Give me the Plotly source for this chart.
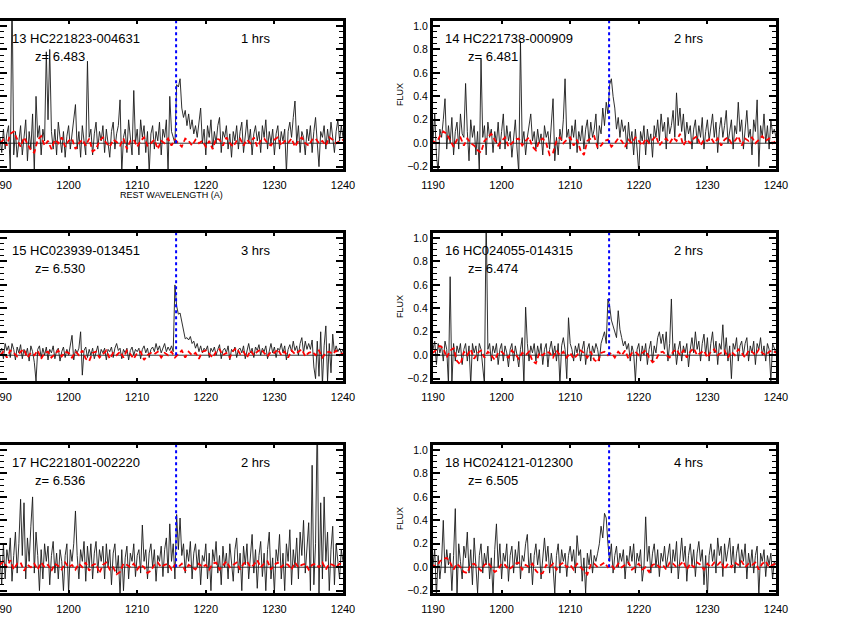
import numpy as np
import plotly.graph_objects as go

# ---------------- data ----------------
wave_start = 1190.0
wave_step = 0.25          # black spectra sampling (Angstrom)
err_step = 0.5            # red (noise) spectra sampling
lya = 1215.67

labels = ["13 HC221823-004631", "14 HC221738-000909", "15 HC023939-013451",
          "16 HC024055-014315", "17 HC221801-002220", "18 HC024121-012300"]
redshifts = ["6.483", "6.481", "6.530", "6.474", "6.536", "6.505"]
exposures = ["1 hrs", "2 hrs", "3 hrs", "2 hrs", "2 hrs", "4 hrs"]

flux13 = [
    0.05, -0.08, 0.12, -0.05, 0.08, 0.15, -0.25, 1.3, -0.1, 0.1, -0.12, 0.05, 0.15, -0.1, 0.08, 0.2, -0.15, 0.1, -0.05, 0.25,
    -0.25, 0.4, 0.05, 0.15, -0.1, 0.12, 0.02, 0.78, 0.2, 0.8, 0.1, -0.05, 0.12, -0.1, 0.18, 0.05, -0.08, 0.1, -0.12, 0.06,
    0.15, -0.05, 0.08, 0.2, 0.33, -0.05, 0.1, -0.12, 0.15, 0.02, -0.1, 0.7, 0.05, 0.12, -0.1, 0.08, 0.18, -0.05, 0.1, 0.02,
    0.15, -0.08, 0.12, 0.0, -0.12, 0.1, 0.18, -0.05, 0.08, 0.15, 0.37, -0.25, 0.05, 0.12, -0.08, 0.2, 0.05, -0.1, 0.45, 0.0,
    0.12, -0.1, 0.2, 0.05, 0.15, -0.08, 0.1, -0.25, 0.08, 0.15, -0.05, 0.1, 0.02, 0.18, -0.1, 0.12, 0.05, 0.2, -0.25, 0.4,
    0.1, 0.05, 0.0, 0.5, 0.48, 0.55, 0.3, 0.22, 0.28, 0.15, 0.25, 0.12, 0.2, 0.08, 0.15, 0.05, 0.18, 0.3, 0.0, 0.12,
    -0.1, 0.15, 0.05, 0.2, -0.05, 0.1, 0.0, 0.15, 0.22, -0.08, 0.1, 0.05, 0.15, -0.05, 0.08, -0.12, 0.1, 0.02, 0.15, -0.05,
    0.1, 0.18, -0.08, 0.05, 0.2, 0.0, 0.12, -0.1, 0.08, 0.15, 0.02, 0.1, -0.08, 0.15, 0.05, 0.2, -0.05, 0.1, 0.0, 0.12,
    -0.1, 0.08, 0.15, -0.05, 0.1, 0.02, 0.12, -0.25, 0.1, 0.18, 0.05, 0.22, 0.36, 0.0, 0.15, -0.08, 0.1, 0.05, -0.1, 0.12,
    0.02, 0.15, -0.08, 0.1, 0.22, 0.0, -0.2, 0.1, 0.05, 0.15, -0.05, 0.12, 0.0, 0.18, 0.05, -0.08, 0.1, 0.2, 0.02, 0.15,
    0.05]

flux14 = [
    0.02, 0.25, -0.1, -0.25, 0.12, 0.05, 0.2, 0.38, -0.05, 0.15, 0.0, 0.22, -0.1, 0.1, 0.18, -0.05, 0.25, 0.08, 0.05, 0.51,
    0.1, -0.15, 0.2, 0.05, 0.15, -0.1, 0.1, -0.25, 0.72, 0.05, 0.15, -0.1, 0.18, 0.05, 0.12, -0.08, 0.1, 0.0, 0.18, -0.05,
    0.1, 0.25, -0.05, 0.15, 0.02, 0.1, -0.12, 0.08, 0.2, -0.05, -0.25, 0.87, 0.0, 0.1, -0.1, 0.05, 0.15, 0.25, 0.02, 0.1,
    -0.05, 0.12, 0.0, 0.08, -0.1, 0.15, 0.05, 0.1, -0.05, 0.2, 0.38, -0.15, 0.05, -0.1, 0.12, 0.02, 0.2, 0.55, 0.05, 0.12,
    -0.05, 0.15, 0.05, 0.2, -0.08, 0.1, 0.02, 0.15, -0.05, 0.12, 0.2, 0.0, 0.18, 0.05, 0.12, 0.25, -0.05, 0.15, 0.08, 0.3,
    0.15, 0.35, 0.25, 0.5, 0.55, 0.4, 0.3, 0.12, 0.22, 0.05, 0.2, 0.1, 0.15, -0.05, 0.18, 0.0, 0.1, -0.1, 0.12, -0.05,
    -0.25, 0.1, 0.02, 0.15, -0.1, 0.12, 0.0, 0.08, -0.12, 0.15, 0.05, 0.2, 0.02, 0.25, 0.1, 0.18, -0.05, 0.22, 0.08, 0.15,
    0.28, 0.05, 0.43, 0.15, 0.3, 0.1, 0.25, 0.02, 0.18, 0.08, 0.15, -0.05, 0.12, 0.2, 0.0, 0.15, 0.05, 0.22, -0.05, 0.1,
    0.2, 0.02, 0.15, 0.25, 0.05, 0.18, -0.08, 0.12, 0.22, 0.05, 0.15, 0.28, 0.0, 0.12, 0.2, -0.05, 0.15, 0.08, 0.35, 0.1,
    0.2, -0.05, 0.15, 0.28, 0.05, 0.12, -0.1, 0.2, 0.1, 0.37, -0.2, 0.15, 0.05, 0.25, 0.0, 0.15, -0.05, 0.2, 0.08, 0.12,
    0.05]

flux15 = [
    0.02, 0.06, -0.03, 0.1, 0.04, 0.08, -0.02, 0.1, 0.05, -0.04, 0.07, 0.02, 0.09, -0.03, 0.05, 0.0, 0.06, -0.05, 0.08, 0.03,
    -0.06, -0.22, 0.05, 0.08, -0.02, 0.06, 0.0, 0.07, -0.04, 0.05, 0.02, 0.08, -0.03, 0.04, 0.06, -0.05, 0.03, 0.07, -0.02, 0.05,
    0.0, 0.08, 0.17, -0.04, 0.05, 0.02, 0.06, 0.2, -0.17, 0.04, 0.07, -0.02, 0.05, 0.0, 0.06, -0.03, 0.04, 0.08, -0.02, 0.05,
    0.02, 0.06, -0.04, 0.05, 0.03, 0.07, -0.02, 0.06, 0.1, 0.04, 0.06, -0.03, 0.05, 0.02, 0.06, -0.04, 0.04, 0.07, 0.0, 0.05,
    0.03, 0.06, -0.03, 0.05, 0.08, 0.02, 0.06, -0.02, 0.05, 0.07, 0.03, 0.1, 0.04, 0.08, 0.02, 0.06, 0.1, 0.03, 0.07, 0.04,
    0.08, 0.03, 0.6, 0.42, 0.35, 0.36, 0.28, 0.2, 0.14, 0.15, 0.13, 0.16, 0.1, 0.12, 0.06, 0.1, 0.03, 0.08, 0.02, 0.06,
    0.04, 0.08, -0.02, 0.06, 0.03, 0.07, 0.0, 0.05, 0.09, -0.03, 0.04, 0.06, 0.02, 0.08, -0.04, 0.05, 0.03, 0.07, -0.02, 0.05,
    0.06, 0.02, 0.08, -0.03, 0.05, 0.1, 0.02, 0.06, -0.02, 0.07, 0.04, 0.09, 0.0, 0.06, 0.03, 0.08, -0.03, 0.05, 0.1, 0.02,
    0.07, -0.02, 0.06, 0.04, 0.1, 0.02, 0.08, -0.04, 0.05, 0.09, 0.03, 0.12, 0.04, 0.08, 0.0, 0.1, 0.15, 0.02, 0.12, 0.05,
    0.1, 0.05, 0.13, -0.1, -0.2, 0.12, -0.18, 0.2, -0.25, 0.08, 0.25, -0.22, 0.1, -0.15, 0.18, 0.02, 0.08, 0.03, 0.06, 0.02,
    0.05]

flux16 = [
    0.05, 0.12, -0.08, 0.1, 0.02, 0.08, -0.05, 0.12, 0.05, -0.25, 0.67, -0.25, 0.1, -0.05, 0.08, 0.02, 0.1, -0.08, 0.05, 0.1,
    -0.05, 0.08, -0.25, 0.1, 0.02, 0.08, -0.05, 0.1, 0.05, -0.1, -0.25, 1.2, 0.05, 0.1, -0.05, 0.08, 0.02, 0.1, -0.08, 0.05,
    0.1, -0.05, 0.08, 0.02, -0.1, 0.05, 0.1, -0.05, 0.08, 0.0, -0.1, 0.05, 0.15, -0.25, 0.41, 0.1, -0.05, 0.08, 0.02, 0.1,
    -0.05, 0.08, 0.0, 0.1, -0.08, 0.05, 0.1, -0.1, 0.05, 0.12, 0.0, 0.08, -0.05, 0.1, -0.25, 0.08, 0.15, 0.05, -0.2, 0.32,
    0.1, 0.05, -0.05, 0.08, 0.02, 0.1, -0.05, 0.05, 0.12, -0.08, 0.05, 0.1, -0.05, 0.08, 0.02, 0.1, 0.05, -0.05, 0.1, 0.15,
    0.2, 0.1, 0.48, 0.42, 0.3, 0.25, 0.2, 0.15, 0.38, 0.22, 0.15, 0.08, 0.12, 0.05, 0.1, -0.05, 0.08, 0.02, -0.22, 0.05,
    0.1, -0.05, 0.08, 0.0, 0.1, -0.08, 0.05, 0.12, -0.05, 0.08, 0.02, 0.15, 0.2, 0.1, 0.18, 0.05, 0.2, -0.05, 0.1, 0.48,
    0.0, 0.1, -0.08, 0.05, 0.12, -0.05, 0.08, 0.02, 0.1, -0.1, 0.05, 0.15, 0.02, 0.2, 0.05, 0.12, -0.05, 0.1, 0.18, 0.0,
    0.15, -0.05, 0.1, 0.2, 0.02, 0.12, -0.08, 0.1, 0.05, 0.26, 0.0, 0.15, -0.05, 0.08, -0.2, 0.1, 0.05, 0.15, -0.05, 0.08,
    0.12, 0.0, 0.1, 0.15, -0.05, 0.08, 0.02, 0.12, -0.08, 0.1, 0.05, 0.15, 0.0, 0.08, -0.05, 0.1, 0.05, -0.22, 0.1, 0.05,
    0.02]

flux17 = [
    0.1, -0.15, 0.2, -0.1, 0.15, 0.05, 0.25, -0.12, 0.1, 0.3, -0.05, 0.2, 0.58, 0.1, 0.55, -0.1, 0.25, 0.05, 0.35, 0.6,
    -0.05, 0.3, 0.1, -0.2, 0.15, -0.1, 0.2, 0.05, 0.18, -0.15, 0.1, 0.22, -0.05, 0.12, -0.1, 0.15, 0.05, -0.2, 0.1, 0.2,
    -0.22, 0.15, 0.05, 0.2, 0.48, 0.1, -0.1, 0.15, 0.05, 0.22, -0.12, 0.18, 0.0, 0.2, -0.1, 0.12, 0.22, -0.05, 0.15, 0.05,
    0.18, -0.1, 0.2, 0.0, 0.15, -0.15, 0.12, 0.2, -0.05, 0.1, -0.25, 0.15, -0.2, 0.08, 0.18, -0.1, 0.12, 0.05, 0.2, -0.08,
    0.1, 0.15, -0.05, 0.36, 0.05, 0.15, -0.1, 0.12, 0.2, 0.0, 0.15, -0.12, 0.1, 0.05, 0.18, -0.08, 0.15, 0.25, -0.05, 0.37,
    0.05, 0.2, -0.1, 0.45, 0.15, 0.42, 0.1, 0.2, -0.05, 0.15, 0.05, 0.22, -0.1, 0.12, 0.2, 0.0, 0.15, -0.15, 0.1, 0.05,
    0.2, -0.1, 0.12, -0.2, 0.15, 0.05, 0.22, -0.05, 0.1, -0.15, 0.18, 0.0, 0.12, -0.1, 0.2, 0.05, -0.12, 0.15, 0.25, -0.05,
    0.12, -0.2, 0.18, 0.02, 0.2, -0.1, 0.1, 0.28, -0.05, 0.15, -0.18, 0.1, 0.22, -0.08, 0.12, -0.2, 0.15, 0.3, -0.1, 0.08,
    -0.22, 0.15, 0.05, 0.28, -0.1, 0.12, -0.2, 0.2, 0.05, 0.32, -0.15, 0.15, 0.0, 0.25, -0.1, 0.3, 0.1, 0.4, -0.05, 0.2,
    0.38, -0.2, 0.87, -0.15, 0.2, 1.3, -0.25, 0.55, -0.1, 0.6, 0.05, 0.3, -0.2, 0.15, 0.35, -0.15, 0.2, 0.05, -0.1, 0.15,
    0.05]

flux18 = [
    0.02, 0.15, -0.25, 0.1, -0.1, 0.05, 0.4, -0.05, 0.15, 0.02, 0.12, -0.2, 0.1, 0.5, -0.25, 0.2, 0.05, -0.1, 0.18, 0.08,
    0.3, -0.05, 0.15, -0.15, 0.25, 0.05, -0.22, 0.1, 0.2, -0.05, 0.12, 0.02, 0.18, -0.1, 0.08, -0.25, 0.15, 0.37, 0.0, 0.2,
    -0.1, 0.12, 0.05, 0.2, -0.12, 0.1, 0.18, -0.05, 0.15, 0.02, 0.22, -0.1, 0.1, 0.05, 0.2, 0.28, -0.05, 0.12, -0.15, 0.1,
    0.2, 0.02, 0.15, -0.1, 0.1, 0.25, 0.05, 0.18, -0.05, 0.12, 0.0, -0.22, 0.1, 0.2, -0.05, 0.15, 0.05, 0.12, -0.08, 0.1,
    0.18, 0.05, 0.15, -0.05, 0.27, 0.1, 0.15, -0.12, 0.08, -0.22, 0.12, 0.02, 0.15, -0.05, 0.1, 0.05, 0.12, 0.2, 0.35, 0.25,
    0.46, 0.42, 0.2, 0.05, 0.2, -0.05, 0.1, 0.18, 0.0, 0.12, 0.05, 0.15, -0.1, 0.1, 0.02, 0.18, 0.05, 0.2, -0.05, 0.12,
    0.05, 0.15, -0.12, 0.0, 0.43, 0.05, 0.18, -0.05, 0.12, 0.2, 0.0, 0.15, -0.08, 0.12, 0.05, 0.18, 0.0, 0.1, 0.2, -0.05,
    0.15, 0.05, 0.22, -0.1, 0.12, 0.25, 0.05, 0.18, -0.12, 0.1, 0.2, 0.02, 0.15, -0.08, 0.12, 0.22, 0.05, 0.15, -0.15, 0.1,
    -0.25, 0.1, 0.2, 0.05, 0.15, -0.05, 0.25, 0.1, 0.18, -0.08, 0.2, 0.05, 0.15, 0.25, 0.02, 0.18, -0.05, 0.12, 0.2, 0.0,
    0.15, 0.05, 0.2, -0.1, 0.12, 0.0, 0.15, -0.05, 0.1, 0.18, -0.25, 0.12, 0.05, 0.15, -0.08, 0.1, 0.02, 0.12, -0.1, 0.05,
    0.02]

noise13 = [
    0.0, 0.03, -0.02, 0.08, 0.1, 0.04, -0.03, 0.05, 0.0, -0.06,
    -0.08, 0.03, 0.06, -0.02, 0.02, -0.05, 0.03, 0.0, 0.05, -0.03,
    0.02, 0.04, -0.05, 0.0, 0.03, -0.02, 0.04, -0.07, -0.05, 0.02,
    0.05, 0.0, -0.03, 0.03, 0.01, -0.02, 0.04, -0.05, 0.02, 0.03,
    -0.03, 0.02, 0.05, -0.02, 0.0, 0.03, -0.05, 0.02, 0.0, 0.04,
    -0.02, 0.03, 0.0, -0.03, 0.04, 0.02, -0.02, 0.03, 0.0, 0.02,
    -0.03, 0.02, -0.05, 0.04, 0.03, -0.02, 0.05, 0.0, -0.03, 0.02,
    0.04, -0.02, 0.03, 0.0, 0.05, -0.03, 0.02, 0.04, 0.0, -0.02,
    0.03, 0.05, -0.02, 0.02, 0.0, 0.04, -0.03, 0.02, 0.05, 0.0,
    -0.02, 0.03, 0.04, 0.0, 0.02, -0.02, 0.05, 0.03, 0.0, 0.02, 0.03]

noise14 = [
    0.02, 0.0, 0.06, 0.1, 0.08, 0.02, -0.03, 0.03, 0.05, -0.02,
    0.04, 0.0, -0.02, -0.06, -0.08, 0.02, 0.05, 0.08, 0.03, -0.02,
    0.02, 0.05, -0.03, 0.0, 0.03, 0.04, -0.02, 0.02, 0.05, -0.03,
    -0.06, 0.02, 0.04, 0.0, -0.1, -0.08, 0.02, 0.05, 0.0, 0.03,
    0.05, -0.02, 0.03, -0.06, -0.1, 0.02, 0.04, 0.06, -0.04, -0.02,
    0.02, 0.03, -0.03, 0.0, 0.04, 0.02, -0.03, 0.03, 0.0, 0.05,
    0.02, -0.02, 0.04, 0.0, 0.03, 0.06, -0.02, 0.02, 0.04, 0.0,
    0.05, 0.02, 0.08, -0.02, 0.03, 0.0, 0.04, 0.06, -0.02, 0.03,
    0.02, 0.05, 0.0, 0.04, -0.02, 0.03, 0.05, 0.0, 0.02, 0.06,
    -0.02, 0.04, 0.02, 0.05, 0.0, 0.03, 0.06, 0.02, 0.04, 0.0, 0.02]

noise15 = [
    0.0, 0.03, -0.02, 0.04, 0.02, -0.01, 0.03, 0.05, -0.02, 0.02,
    0.0, 0.04, -0.03, 0.02, 0.03, -0.02, 0.01, 0.04, -0.01, 0.03,
    0.02, -0.02, 0.03, 0.0, 0.04, -0.03, -0.05, 0.02, 0.03, -0.02,
    0.01, 0.04, -0.03, 0.02, 0.0, 0.03, -0.02, 0.04, 0.01, -0.03,
    0.02, 0.03, -0.04, 0.0, 0.02, 0.01, 0.03, -0.02, 0.02, 0.0,
    0.03, -0.02, 0.01, 0.04, -0.02, 0.03, 0.0, 0.02, -0.03, 0.03,
    0.04, 0.01, -0.02, 0.03, 0.05, 0.0, 0.02, -0.02, 0.04, 0.06,
    0.01, 0.03, -0.02, 0.04, 0.0, 0.03, 0.05, 0.02, -0.01, 0.03,
    0.02, 0.05, 0.0, 0.03, -0.02, 0.04, 0.01, 0.03, 0.05, -0.01,
    0.02, 0.03, 0.0, 0.04, -0.02, 0.02, 0.03, 0.01, 0.04, 0.0, 0.02]

noise16 = [
    0.02, 0.05, 0.08, 0.06, -0.02, 0.04, 0.06, -0.05, -0.08, 0.03,
    0.0, 0.05, -0.03, 0.02, 0.04, -0.02, 0.03, 0.0, -0.04, 0.02,
    0.03, 0.0, -0.02, 0.04, 0.01, -0.03, 0.02, 0.0, 0.03, -0.05,
    -0.07, 0.02, 0.0, 0.03, 0.02, -0.02, 0.04, 0.0, 0.03, -0.02,
    0.02, -0.03, 0.0, 0.04, 0.02, -0.02, 0.03, -0.04, -0.06, 0.02,
    0.03, 0.0, 0.02, -0.02, 0.03, 0.0, 0.04, -0.03, 0.02, 0.03,
    0.0, 0.02, 0.04, -0.02, -0.06, -0.04, 0.02, 0.03, 0.0, -0.02,
    0.03, 0.05, 0.0, 0.04, -0.02, 0.03, 0.06, 0.0, 0.02, 0.04,
    -0.02, 0.03, 0.05, 0.0, 0.02, 0.04, -0.02, 0.03, 0.0, 0.05,
    0.02, -0.02, 0.04, 0.03, 0.0, 0.05, 0.02, 0.0, 0.03, 0.04, 0.02]

noise17 = [
    0.02, 0.05, 0.0, 0.06, -0.02, 0.03, 0.04, -0.03, 0.02, 0.0,
    0.03, -0.02, 0.04, 0.0, 0.02, -0.03, 0.03, 0.01, -0.02, 0.04,
    0.0, 0.02, -0.02, 0.03, 0.0, 0.04, -0.03, 0.02, 0.03, -0.05,
    0.02, 0.04, -0.02, 0.0, -0.06, -0.04, 0.03, 0.02, 0.0, 0.03,
    -0.02, 0.02, 0.0, -0.05, -0.03, 0.02, 0.04, 0.0, 0.02, 0.03,
    -0.02, 0.02, 0.0, 0.03, -0.03, 0.02, 0.0, -0.02, 0.03, 0.0,
    0.02, -0.02, 0.03, 0.04, -0.02, 0.02, 0.05, 0.0, 0.02, 0.04,
    -0.02, 0.03, 0.05, 0.0, 0.02, 0.06, 0.0, 0.03, 0.05, -0.02,
    0.02, 0.04, 0.0, 0.03, 0.02, -0.02, 0.04, 0.0, 0.02, 0.03,
    -0.02, 0.02, 0.03, 0.0, 0.04, -0.02, 0.03, 0.02, 0.0, 0.03, 0.02]

noise18 = [
    0.02, 0.0, 0.05, 0.07, 0.08, 0.04, -0.02, 0.03, 0.0, -0.04,
    -0.05, 0.02, 0.03, 0.0, -0.03, 0.02, 0.04, 0.0, -0.04, -0.02,
    0.03, 0.02, -0.02, 0.0, 0.03, 0.04, -0.02, 0.02, 0.0, 0.03,
    -0.03, -0.06, -0.05, 0.02, 0.0, 0.03, -0.02, 0.02, 0.04, 0.0,
    0.02, -0.02, 0.03, 0.0, -0.03, -0.06, 0.02, 0.03, 0.0, 0.02,
    0.04, 0.0, 0.02, -0.02, 0.03, 0.0, 0.02, 0.04, -0.02, 0.0,
    0.03, -0.02, 0.0, -0.04, 0.02, 0.03, 0.0, 0.02, -0.02, 0.04,
    0.03, 0.0, 0.02, 0.05, -0.02, 0.03, 0.0, 0.04, 0.02, -0.02,
    0.03, 0.0, 0.04, 0.02, 0.05, -0.02, 0.03, 0.0, 0.04, 0.02,
    0.05, 0.0, 0.03, 0.02, 0.04, -0.02, 0.03, 0.05, 0.0, 0.02, 0.03]

fluxes = [flux13, flux14, flux15, flux16, flux17, flux18]
noises = [noise13, noise14, noise15, noise16, noise17, noise18]

# ---------------- layout geometry ----------------
W, H = 864, 637
col_px = [(0, 343), (433, 776)]
row_px = [(21, 169), (233, 381), (445, 593)]
yrange = [-0.22, 1.043]
FONT = "Liberation Sans, Arial, Helvetica, sans-serif"

fig = go.Figure()
layout = dict(
    width=W, height=H,
    margin=dict(l=0, r=0, t=0, b=0, pad=0, autoexpand=False),
    paper_bgcolor="white", plot_bgcolor="white",
    showlegend=False,
    font=dict(family=FONT, color="black"),
)
annotations = []
shapes = []

for k in range(6):
    r, c = divmod(k, 2)
    n = k + 1
    xs = "" if n == 1 else str(n)
    flux = np.array(fluxes[k])
    wl = wave_start + wave_step * np.arange(len(flux))
    err = np.array(noises[k])
    wl_err = wave_start + err_step * np.arange(len(err))

    fig.add_trace(go.Scatter(x=wl, y=flux, mode="lines", xaxis="x" + xs, yaxis="y" + xs,
                             line=dict(color="#1a1a1a", width=0.9), hoverinfo="skip"))
    fig.add_trace(go.Scatter(x=wl_err, y=err, mode="lines", xaxis="x" + xs, yaxis="y" + xs,
                             line=dict(color="red", width=1.8, dash="5px,3px"), hoverinfo="skip"))

    x0, x1 = col_px[c]
    yt, yb = row_px[r]
    layout["xaxis" + xs] = dict(
        domain=[x0 / W, x1 / W], range=[1190, 1240], anchor="y" + xs,
        tick0=1190, dtick=10, ticks="inside", ticklen=3, tickwidth=1.5, tickcolor="black",
        showline=True, linewidth=3, linecolor="black", mirror="allticks",
        showgrid=False, zeroline=False, tickfont=dict(size=11, family=FONT),
        ticklabelstandoff=4, automargin=False, ticklabeloverflow="allow",
    )
    layout["yaxis" + xs] = dict(
        domain=[1 - yb / H, 1 - yt / H], range=yrange, anchor="x" + xs,
        tick0=0, dtick=0.2, ticks="inside", ticklen=7, tickwidth=1.5, tickcolor="black",
        minor=dict(dtick=0.05, ticks="inside", ticklen=4, tickwidth=1, tickcolor="black"),
        showline=True, linewidth=3, linecolor="black", mirror="allticks",
        showgrid=False, zeroline=False, tickformat=".1f", automargin=False,
        showticklabels=(c == 1), tickfont=dict(size=10.5, family=FONT),
    )

    # zero level
    shapes.append(dict(type="line", xref="x" + xs, yref="y" + xs, x0=1190, x1=1240, y0=0, y1=0,
                       line=dict(color="black", width=0.8), layer="below"))
    # Lyman alpha marker
    shapes.append(dict(type="line", xref="x" + xs, yref="y" + xs, x0=lya, x1=lya, y0=0, y1=yrange[1],
                       line=dict(color="blue", width=2, dash="dot"), layer="above"))

    annotations.append(dict(xref="x" + xs, yref="y" + xs, x=1191.4, y=0.89, text=labels[k],
                            showarrow=False, xanchor="left", yanchor="middle",
                            font=dict(size=13, family=FONT, color="black")))
    annotations.append(dict(xref="x" + xs, yref="y" + xs, x=1194.8, y=0.74, text="z= " + redshifts[k],
                            showarrow=False, xanchor="left", yanchor="middle",
                            font=dict(size=13, family=FONT, color="black")))
    annotations.append(dict(xref="x" + xs, yref="y" + xs, x=1227.2, y=0.89, text=exposures[k],
                            showarrow=False, xanchor="center", yanchor="middle",
                            font=dict(size=13, family=FONT, color="black")))

    if c == 1:
        annotations.append(dict(xref="paper", yref="paper", x=400 / W, y=1 - (yt + yb) / 2 / H,
                                text="FLUX", textangle=-90, showarrow=False,
                                xanchor="center", yanchor="middle",
                                font=dict(size=9, family=FONT, color="black")))

annotations.append(dict(xref="paper", yref="paper", x=171.5 / W, y=1 - 195 / H,
                        text="REST WAVELENGTH (A)", showarrow=False,
                        xanchor="center", yanchor="middle",
                        font=dict(size=9, family=FONT, color="black")))

layout["annotations"] = annotations
layout["shapes"] = shapes
fig.update_layout(**layout)
fig.write_html("out.html", config={"displayModeBar": False},
               post_script="document.body.style.margin='0px';document.body.style.padding='0px';")
